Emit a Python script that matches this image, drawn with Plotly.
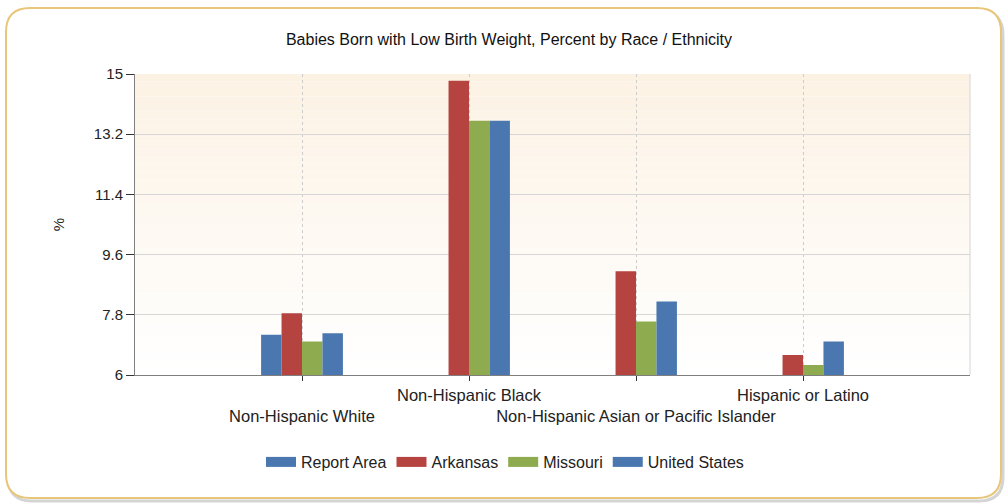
import plotly.graph_objects as go

# Low birth weight share (%) by race / ethnicity
categories = [
    "Non-Hispanic White",
    "Non-Hispanic Black",
    "Non-Hispanic Asian or Pacific Islander",
    "Hispanic or Latino",
]
report_area = [7.2, None, None, None]
arkansas = [7.85, 14.8, 9.1, 6.6]
missouri = [7.0, 13.6, 7.6, 6.3]
united_states = [7.25, 13.6, 8.2, 7.0]
y_ticks = [6, 7.8, 9.6, 11.4, 13.2, 15]

series = [
    ("Report Area", report_area, "#4a77b0"),
    ("Arkansas", arkansas, "#b5433f"),
    ("Missouri", missouri, "#8eab4f"),
    ("United States", united_states, "#4a77b0"),
]

W, H = 1005, 504
L, R, T, B = 135, 35, 74, 129
PW, PH = W - L - R, H - T - B


def px_x(x):
    return (x - L) / PW


def px_y(y):
    return (T + PH - y) / PH


# staggered category labels: every other one drops to a second line
positions = list(range(1, len(categories) + 1))
tick_text = [("<br>" + c) if i % 2 == 0 else c for i, c in enumerate(categories)]

fig = go.Figure()
for name, vals, color in series:
    fig.add_trace(go.Bar(
        x=positions, y=vals, name=name, marker_color=color,
        marker_line_width=0, showlegend=False,
    ))
# wide legend swatches
for name, vals, color in series:
    fig.add_trace(go.Scatter(
        x=[None], y=[None], mode="lines", name=name,
        line=dict(color=color, width=13), showlegend=True,
    ))

shapes = []


def rounded(x0, y0, x1, y1, r):
    pts = [
        ("M", px_x(x0 + r), px_y(y0)),
        ("L", px_x(x1 - r), px_y(y0)),
        ("Q", px_x(x1), px_y(y0), px_x(x1), px_y(y0 + r)),
        ("L", px_x(x1), px_y(y1 - r)),
        ("Q", px_x(x1), px_y(y1), px_x(x1 - r), px_y(y1)),
        ("L", px_x(x0 + r), px_y(y1)),
        ("Q", px_x(x0), px_y(y1), px_x(x0), px_y(y1 - r)),
        ("L", px_x(x0), px_y(y0 + r)),
        ("Q", px_x(x0), px_y(y0), px_x(x0 + r), px_y(y0)),
    ]
    out = ""
    for p in pts:
        out += p[0] + " " + " ".join("%.5f" % v for v in p[1:]) + " "
    return out + "Z"


# outer frame with a faint drop shadow
shapes.append(dict(type="path", xref="paper", yref="paper",
                   path=rounded(8, 11, 1003, 501, 24),
                   line=dict(color="rgba(160,160,160,0.45)", width=3), layer="below"))
shapes.append(dict(type="path", xref="paper", yref="paper",
                   path=rounded(6, 8, 1001, 498, 24),
                   fillcolor="white",
                   line=dict(color="#e8c679", width=2), layer="below"))

# soft cream-to-white gradient across the plotting area
steps = 40
top_c = (252, 242, 228)
bot_c = (255, 255, 255)
for i in range(steps):
    t = i / (steps - 1)
    c = tuple(round(top_c[k] + (bot_c[k] - top_c[k]) * t) for k in range(3))
    shapes.append(dict(
        type="rect", xref="paper", yref="paper",
        x0=0, x1=1, y0=1 - (i + 1) / steps, y1=1 - i / steps,
        fillcolor="rgb(%d,%d,%d)" % c, line_width=0, layer="below",
    ))
# right edge of plotting area
shapes.append(dict(type="line", xref="paper", yref="paper", x0=1, x1=1, y0=0, y1=1,
                   line=dict(color="#d4d4d4", width=1), layer="below"))

font_family = "Liberation Sans, Arial, sans-serif"

fig.update_layout(
    width=W, height=H, autosize=False,
    margin=dict(l=L, r=R, t=T, b=B, pad=0, autoexpand=False),
    paper_bgcolor="white",
    plot_bgcolor="rgba(0,0,0,0)",
    barmode="group", bargap=0.51, bargroupgap=0,
    font=dict(family=font_family, size=14, color="#222222"),
    title=dict(
        text="Babies Born with Low Birth Weight, Percent by Race / Ethnicity",
        x=509 / W, xref="container", xanchor="center",
        y=1 - 39 / H, yref="container", yanchor="middle",
        font=dict(size=16, color="#111111"),
    ),
    xaxis=dict(
        range=[0, 5], tickmode="array", tickvals=positions, ticktext=tick_text,
        showgrid=True, gridcolor="#cccccc", griddash="dot", gridwidth=1,
        showline=True, linecolor="#7f7f7f", linewidth=1,
        ticks="outside", ticklen=5, tickcolor="#333333", tickangle=0,
        tickfont=dict(size=16.5, color="#222222"), zeroline=False,
        automargin=False,
    ),
    yaxis=dict(
        range=[6, 15], tickmode="array", tickvals=y_ticks,
        ticktext=[str(v) for v in y_ticks],
        showgrid=True, gridcolor="#d6d6d6", gridwidth=1,
        showline=True, linecolor="#7f7f7f", linewidth=1,
        ticks="outside", ticklen=8, tickcolor="#333333",
        tickfont=dict(size=15, color="#222222"), zeroline=False,
        title=dict(text="%", standoff=25, font=dict(size=15)),
        automargin=False,
    ),
    legend=dict(
        orientation="h", x=505 / W, xref="container", xanchor="center",
        y=1 - 462 / H, yref="container", yanchor="middle",
        font=dict(size=16, color="#222222"),
        bgcolor="rgba(0,0,0,0)", tracegroupgap=0,
    ),
    shapes=shapes,
)

fig.write_html("out.html")
